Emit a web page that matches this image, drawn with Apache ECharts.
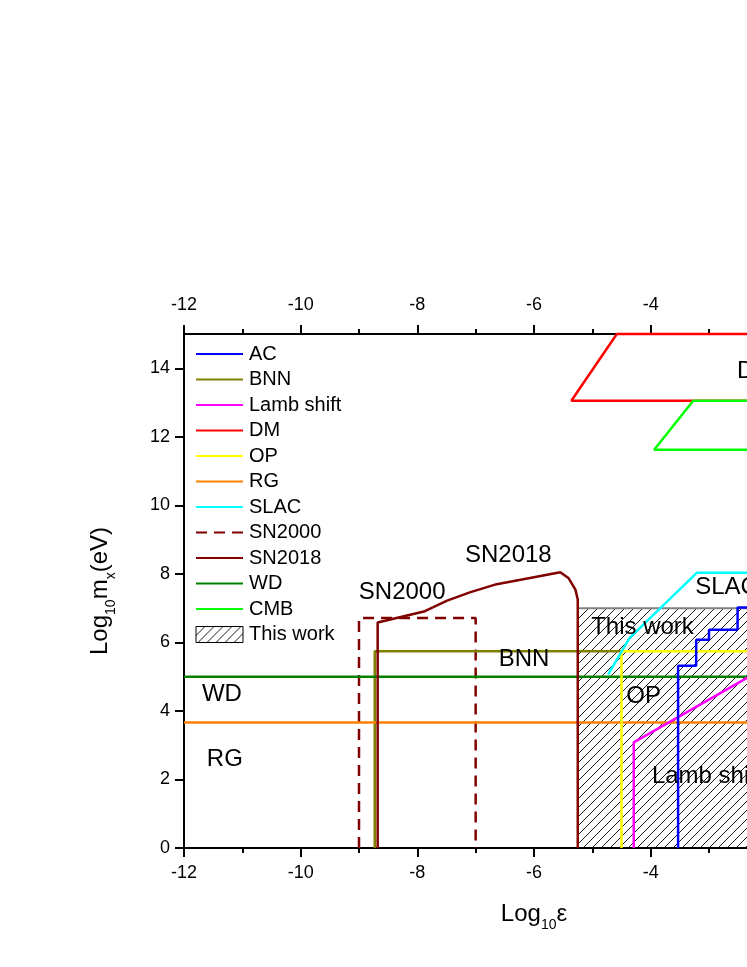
<!DOCTYPE html>
<html><head><meta charset="utf-8">
<script src="https://cdn.jsdelivr.net/npm/echarts@6/dist/echarts.min.js"></script>
<style>html,body{margin:0;padding:0;background:#fff;overflow:hidden;width:747px;height:967px}#c{width:920px;height:967px}</style>
</head><body><div id="c"></div>
<script>
// ---- data (log10 epsilon, log10 m_x) ----
const xRange = [-12, 0];
const yRange = [0, 15];
const AC = [[-3.53,0],[-3.53,5.32],[-3.22,5.32],[-3.22,6.08],[-3.0,6.08],[-3.0,6.37],[-2.51,6.37],[-2.51,7.02],[-1.9,7.02]];
const BNN = [[-8.73,0],[-8.73,5.74],[-4.5,5.74]];
const LambShift = [[-4.29,0],[-4.29,3.08],[-2.0,5.3]];
const DM = [[-1.0,15],[-4.58,15],[-5.36,13.05],[-1.0,13.05]];
const OP = [[-4.5,0],[-4.5,5.74],[0,5.74]];
const RG = [[-12,3.66],[0,3.66]];
const SLAC = [[-4.73,5.06],[-4.52,5.67],[-4.36,6.13],[-3.21,8.03],[0,8.03]];
const SN2000 = [[-9.0,0],[-9.0,6.71],[-7.0,6.71],[-7.0,0]];
const SN2018 = [[-8.68,0],[-8.68,6.58],[-7.87,6.91],[-7.49,7.22],[-7.10,7.46],[-6.64,7.70],[-6.07,7.88],[-5.55,8.05],[-5.41,7.88],[-5.29,7.54],[-5.25,7.25],[-5.25,0]];
const WD = [[-12,5.0],[0,5.0]];
const CMB = [[-1.0,13.05],[-3.27,13.05],[-3.94,11.62],[-1.0,11.62]];
const ThisWork = [[-5.25,7.0],[0,7.0]];
const labelTexts = ['SN2000','SN2018','BNN','WD','RG','This work','OP','Lamb shift','SLAC','DM'];
const labelX = [-8.26,-6.44,-6.17,-11.35,-11.30,-4.14,-4.12,-3.03,-2.70,-2.20];
const labelY = [7.46,8.54,5.50,4.47,2.60,6.43,4.42,2.08,7.60,13.92];
const legendOrder = ['AC','BNN','Lamb shift','DM','OP','RG','SLAC','SN2000','SN2018','WD','CMB','This work'];
const colors = {AC:'#0000ff',BNN:'#808000','Lamb shift':'#ff00ff',DM:'#ff0000',OP:'#ffff00',RG:'#ff8000',SLAC:'#00ffff',SN2000:'#800000',SN2018:'#800000',WD:'#008000',CMB:'#00ff00'};

// hatch pattern
const pc = document.createElement('canvas');
pc.width = 9; pc.height = 9;
const ctx = pc.getContext('2d');
ctx.strokeStyle = '#000'; ctx.lineWidth = 0.9;
ctx.beginPath();
ctx.moveTo(-1,10); ctx.lineTo(10,-1);
ctx.moveTo(-1,1); ctx.lineTo(1,-1);
ctx.moveTo(8,10); ctx.lineTo(10,8);
ctx.stroke();
const hatch = {image: pc, repeat: 'repeat'};

const FONT = 'Liberation Sans, Arial, sans-serif';
const LW = 2.5;
function lineSeries(name, data, extra) {
  return Object.assign({
    name: name, type: 'line', data: data, symbol: 'none', animation: false,
    lineStyle: {color: colors[name], width: LW},
    itemStyle: {color: colors[name]}, z: 3
  }, extra || {});
}
const series = [
  {name:'This work', type:'line', data: ThisWork, symbol:'none', animation:false,
   lineStyle:{color:'#808080', width:2}, itemStyle:{color:'#808080'},
   areaStyle:{color: hatch, opacity:1, origin:'start'}, z:2},
  lineSeries('SN2000', SN2000, {lineStyle:{color:colors.SN2000, width:LW, type:[11,7]}}),
  lineSeries('BNN', BNN),
  lineSeries('RG', RG),
  lineSeries('WD', WD),
  lineSeries('SN2018', SN2018),
  lineSeries('OP', OP),
  lineSeries('Lamb shift', LambShift),
  lineSeries('AC', AC),
  lineSeries('SLAC', SLAC),
  lineSeries('DM', DM, {clip:false}),
  lineSeries('CMB', CMB),
  {type:'scatter', name:'labels', symbolSize:1, itemStyle:{color:'rgba(0,0,0,0)'}, animation:false, z:5,
   data: labelTexts.map((t,i)=>({name:t, value:[labelX[i], labelY[i]]})),
   label:{show:true, position:'inside', formatter:'{b}', color:'#000', opacity:1, textBorderWidth:0, textBorderColor:'transparent', fontSize:24, fontFamily:FONT}}
];

const axisCommon = {
  type:'value', min: xRange[0], max: xRange[1], interval: 2,
  axisLine:{show:true, onZero:false, lineStyle:{color:'#000', width:2}},
  axisTick:{show:true, inside:false, length:9, lineStyle:{color:'#000', width:2}},
  minorTick:{show:true, splitNumber:2, length:5, lineStyle:{color:'#000', width:2}},
  splitLine:{show:false}, minorSplitLine:{show:false},
  axisLabel:{color:'#000', fontSize:18, fontFamily:FONT, margin:16}
};
const chart = echarts.init(document.getElementById('c'), null, {renderer:'canvas'});
chart.setOption({
  backgroundColor:'#fff',
  animation:false,
  grid:{left:184, top:334, width:700, height:514, containLabel:false},
  xAxis:[
    Object.assign({}, axisCommon, {position:'bottom',
      name:'{a|Log}{s|10}{a|ε}', nameLocation:'middle', nameGap:54,
      nameTextStyle:{rich:{a:{fontSize:24, fontFamily:FONT, color:'#000', verticalAlign:'bottom', padding:[0,0,6,0]}, s:{fontSize:14, fontFamily:FONT, color:'#000', verticalAlign:'bottom'}}}}),
    Object.assign({}, axisCommon, {position:'top', axisLabel:Object.assign({}, axisCommon.axisLabel, {margin:20})})
  ],
  yAxis:[
    {type:'value', min:yRange[0], max:yRange[1], interval:2, position:'left',
     axisLine:{show:true, onZero:false, lineStyle:{color:'#000', width:2}},
     axisTick:{show:true, length:9, lineStyle:{color:'#000', width:2}},
     splitLine:{show:false},
     axisLabel:{color:'#000', fontSize:18, fontFamily:FONT, margin:14, showMaxLabel:false},
     name:'{a|Log}{s|10}{a|m}{s|x}{a|(eV)}', nameLocation:'middle', nameGap:66, nameRotate:90,
     nameTextStyle:{rich:{a:{fontSize:24, fontFamily:FONT, color:'#000', verticalAlign:'bottom', padding:[0,0,6,0]}, s:{fontSize:14, fontFamily:FONT, color:'#000', verticalAlign:'bottom'}}}},
    {type:'value', min:yRange[0], max:yRange[1], interval:1, position:'left',
     axisLine:{show:false}, axisTick:{show:true, length:5, lineStyle:{color:'#000', width:2}},
     axisLabel:{show:false}, splitLine:{show:false}}
  ],
  legend:{
    orient:'vertical', left:195, top:344, padding:0, itemWidth:47, itemHeight:16, itemGap:5.5,
    itemStyle:{opacity:0},
    textStyle:{fontSize:20, fontFamily:FONT, color:'#000', padding:[0,0,0,1]},
    data: legendOrder.map(n => n === 'This work'
      ? {name:n, icon:'rect', itemStyle:{color:hatch, borderColor:'#000', borderWidth:1, opacity:1}}
      : {name:n})
  },
  series: series
});
</script>
</body></html>
